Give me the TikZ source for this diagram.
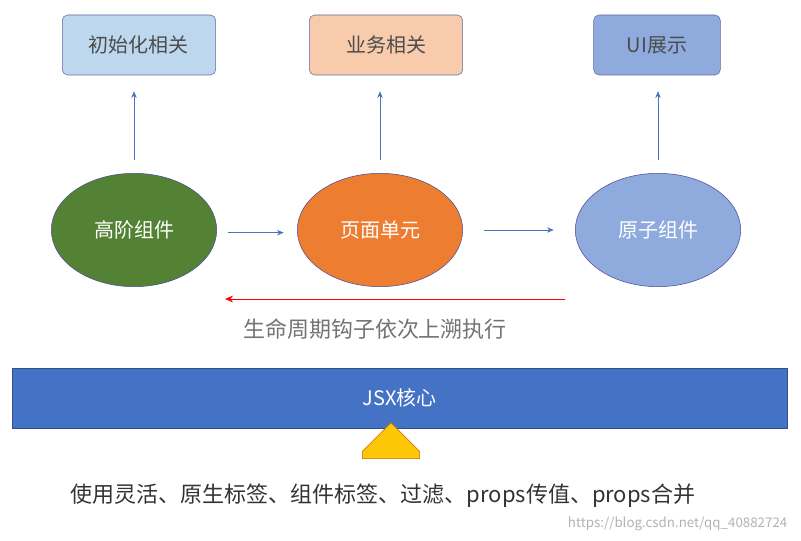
\documentclass[tikz,border=0pt]{standalone}
\usepackage{fontspec}
\setmainfont{Noto Sans CJK SC}
\usetikzlibrary{shapes.geometric,shapes.arrows,arrows.meta,positioning}
\definecolor{boxblue}{HTML}{BDD7EE}
\definecolor{boxorange}{HTML}{F8CBAD}
\definecolor{boxui}{HTML}{8FAADC}
\definecolor{hocgreen}{HTML}{548235}
\definecolor{pageorange}{HTML}{ED7D31}
\definecolor{corebar}{HTML}{4472C4}
\definecolor{linkblue}{HTML}{4472C4}
\tikzset{%
    topbox/.style={%
        rectangle, rounded corners=4pt, draw=black!60!blue!60, minimum width=#1, minimum height=45pt, font=\fontsize{15}{18}\selectfont, text=black!70
    },
    unit/.style={%
        ellipse, draw=black!60!blue!70, minimum width=124pt, minimum height=85pt, font=\fontsize{15}{18}\selectfont
    },
    link/.style={%
        -{Stealth[length=5pt,width=4pt]}, linkblue, thin
    },
}
\begin{document}
\begin{tikzpicture}[x=0.75pt,y=-0.75pt]
  \useasboundingbox (0,0) rectangle (801,541);
  % top boxes
  \node[topbox=115pt, fill=boxblue] (init) at (139,45) {初始化相关};
  \node[topbox=115pt, fill=boxorange] (biz) at (386,45) {业务相关};
  \node[topbox=95pt, fill=boxui] (ui) at (657,45) {UI展示};

  % units
  \node[unit, fill=hocgreen, text=white] (hoc) at (134,230) {高阶组件};
  \node[unit, fill=pageorange, text=white] (page) at (380,230) {页面单元};
  \node[unit, fill=boxui, text=white] (atom) at (658,230) {原子组件};

  \draw[link] ([yshift=10pt]hoc.north) -- ([yshift=-12pt]init.south -| hoc.north);
  \draw[link] ([yshift=10pt]page.north) -- ([yshift=-12pt]biz.south -| page.north);
  \draw[link] ([yshift=10pt]atom.north) -- ([yshift=-12pt]ui.south -| atom.north);
  \draw[link] ([xshift=8pt,yshift=-2pt]hoc.east) -- ([xshift=-10pt,yshift=-2pt]page.west);
  \draw[link] ([xshift=16pt]page.east) -- ([xshift=-16pt]atom.west);

  % lifecycle
  \coordinate (back) at (565,299);
  \coordinate (backend) at (225,299);
  \draw[-{Stealth[length=6pt,width=5pt]}, red] (back) -- (backend);
  \node[text=black!55, font=\fontsize{16.5}{20}\selectfont] (life) at (375,329) {生命周期钩子依次上溯执行};

  % core bar
  \node[rectangle, draw=corebar!70!black, fill=corebar, text=white, minimum width=581pt, minimum height=45pt, font=\fontsize{15}{18}\selectfont] (core) at (399.5,398) {JSX核心};

  \node[single arrow, shape border rotate=90, draw=orange!80!black, fill=yellow!60!orange, minimum height=27pt, minimum width=43pt, single arrow head extend=0pt, inner sep=1pt] (push) at (391,455) {};

  \node[text=black!80, font=\fontsize{16.5}{20}\selectfont] (feat) at (383,496) {使用灵活、原生标签、组件标签、过滤、props传值、props合并};
  \node[text=black!30, font=\fontsize{10}{12}\selectfont, anchor=east] (mark) at (792,524) {https://blog.csdn.net/qq\_40882724};
\end{tikzpicture}
\end{document}
